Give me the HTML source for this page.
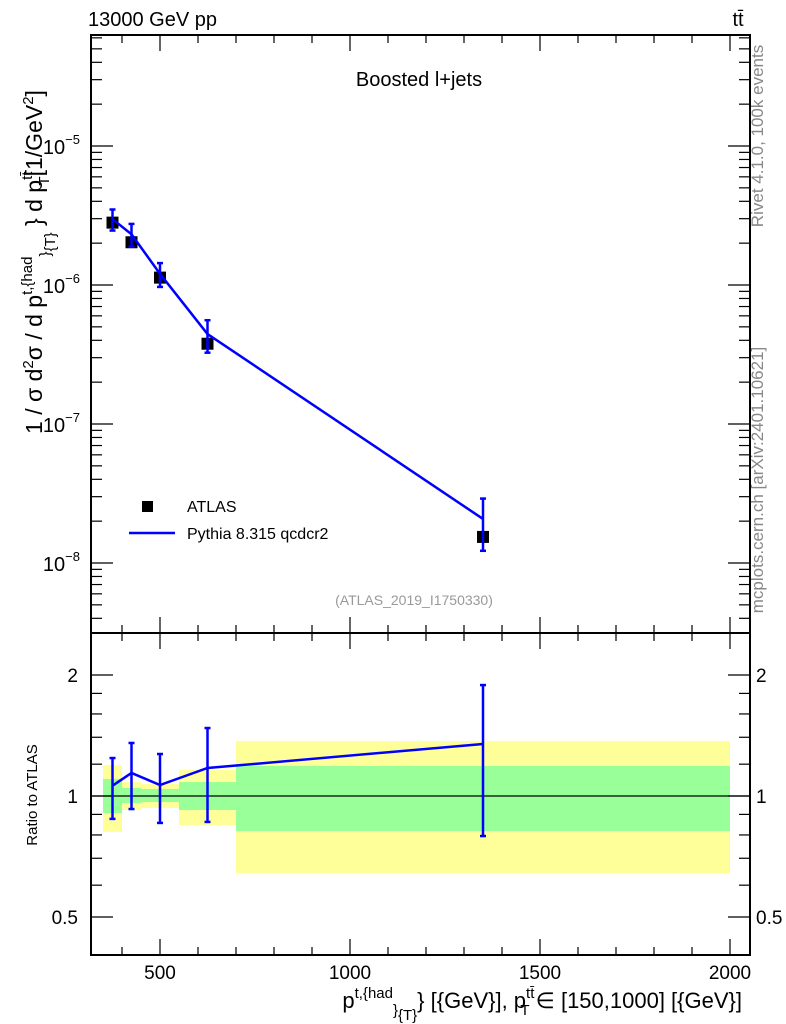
<!DOCTYPE html>
<html><head><meta charset="utf-8"><style>
html,body{margin:0;padding:0;background:#fff}
svg{display:block;font-family:"Liberation Sans",sans-serif}
</style></head><body>
<svg id="c" width="786" height="1024" viewBox="0 0 786 1024">
<text x="88" y="26" font-size="20">13000 GeV pp</text>
<text x="738" y="26" font-size="20" text-anchor="middle">tt̄</text>
<text x="419" y="86" font-size="20" text-anchor="middle">Boosted l+jets</text>
<text x="414" y="605" font-size="14" fill="#999" text-anchor="middle">(ATLAS_2019_I1750330)</text>
<text transform="translate(763,136) rotate(-90)" font-size="17" fill="#888" text-anchor="middle">Rivet 4.1.0,  100k events</text>
<text transform="translate(763,480) rotate(-90)" font-size="17" fill="#888" text-anchor="middle">mcplots.cern.ch [arXiv:2401.10621]</text>
<text transform="translate(42,262) rotate(-90)" font-size="23" text-anchor="middle">1 / σ d<tspan dy="-9" font-size="15">2</tspan><tspan dy="9">σ / d p</tspan><tspan dy="-10" font-size="15">t,{had</tspan><tspan dy="18" font-size="15">}</tspan><tspan dy="5" font-size="15">{T}</tspan><tspan dy="-13"> } d p</tspan><tspan dy="-10" font-size="15">tt̄</tspan><tspan dx="-14" dy="17" font-size="15">T</tspan><tspan dy="-7">[1/GeV</tspan><tspan dy="-9" font-size="15">2</tspan><tspan dy="9">]</tspan></text>
<text transform="translate(37,795) rotate(-90)" font-size="15" text-anchor="middle">Ratio to ATLAS</text>
<text x="742" y="1008" font-size="22" text-anchor="end">p<tspan dy="-10" font-size="15">t,{had</tspan><tspan dy="17" font-size="15">}</tspan><tspan dy="5" font-size="15">{T}</tspan><tspan dy="-12">} [{GeV}], p</tspan><tspan dy="-10" font-size="15">tt̄</tspan><tspan dx="-14" dy="17" font-size="15">T</tspan><tspan dy="-7"> ∈ [150,1000] [{GeV}]</tspan></text>
<g>
<rect x="142" y="501" width="11" height="11" fill="#000"/>
<text x="187" y="512" font-size="16">ATLAS</text>
<line x1="129" y1="533" x2="175" y2="533" stroke="#00f" stroke-width="2.5"/>
<text x="187" y="539" font-size="16">Pythia 8.315 qcdcr2</text>
</g>
</svg>
<script>
const binEdges=[350,400,450,550,700,2000];
const binCenters=[375,425,500,625,1350];
const atlasValues=[2.81e-6,2.03e-6,1.13e-6,3.78e-7,1.54e-8];
const mcRatio=[1.061,1.141,1.065,1.174,1.347];
const mcRatioUp=[1.243,1.355,1.272,1.476,1.888];
const mcRatioDown=[0.877,0.928,0.857,0.862,0.795];
const statUp=[1.102,1.047,1.041,1.083,1.188];
const statDown=[0.907,0.961,0.966,0.923,0.818];
const totUp=[1.194,1.083,1.071,1.161,1.370];
const totDown=[0.814,0.923,0.934,0.847,0.643];
const xTicks=[500,1000,1500,2000];
const yTicks=[-8,-7,-6,-5];
const rTicks=[0.5,1,2];

const NS="http://www.w3.org/2000/svg",svg=document.getElementById('c');
const L=91,R=750,T=35,M=633,B=955;
const X=v=>-30+v*0.38;
const Y=v=>146+(-5-Math.log10(v))*139;
const RY=v=>796-Math.log2(v)*121;
function mk(t,a,p){const e=document.createElementNS(NS,t);for(const k in a)e.setAttribute(k,a[k]);(p||svg).appendChild(e);return e;}
const clipM=mk('clipPath',{id:'cm'});mk('rect',{x:L,y:T,width:R-L,height:M-T},clipM);
const clipR=mk('clipPath',{id:'cr'});mk('rect',{x:L,y:M,width:R-L,height:B-M},clipR);

const gb=mk('g',{'clip-path':'url(#cr)'});


for(let i=0;i<binCenters.length;i++){
  const x0=X(binEdges[i]),x1=X(binEdges[i+1]);
  const y=mk('rect',{x:x0,y:RY(totUp[i]),width:x1-x0,height:RY(totDown[i])-RY(totUp[i]),fill:'#ffff99'},gb);
  
  
  const g=mk('rect',{x:x0,y:RY(statUp[i]),width:x1-x0,height:RY(statDown[i])-RY(statUp[i]),fill:'#99ff99'},gb);
  
  
}
const one=mk('line',{x1:L,x2:R,y1:RY(1),y2:RY(1),stroke:'#000','stroke-width':1.3});



function frame(y0,y1,name){const r=mk('rect',{x:L,y:y0,width:R-L,height:y1-y0,fill:'none',stroke:'#000','stroke-width':2});
}
frame(T,M,'main-frame');frame(M,B,'ratio-frame');
function tk(x1,y1,x2,y2){mk('line',{x1,y1,x2,y2,stroke:'#000','stroke-width':1.2});}
for(let v=400;v<=2000;v+=100){const x=X(v),big=v%500===0,l=big?16:8;
  [[M,-1],[B,-1],[T,1],[M,1]].forEach(([y,d])=>tk(x,y,x,y+d*l));}
xTicks.forEach(v=>{const t=mk('text',{x:X(v),y:979,'font-size':19,'text-anchor':'middle'});t.textContent=v;
  });
for(let d=-9;d<=-5;d++)for(let m=1;m<10;m++){const v=m*Math.pow(10,d),y=Y(v);if(y<T||y>M)continue;const l=m===1?22:11;
  tk(L,y,L+l,y);tk(R,y,R-l,y);}
yTicks.forEach(d=>{const t=mk('text',{x:80,y:Y(Math.pow(10,d))+8,'font-size':20,'text-anchor':'end'});
  t.innerHTML='10<tspan dy="-10" font-size="13">−'+(-d)+'</tspan>';
  });
[0.5,0.6,0.7,0.8,0.9,1,1.2,1.4,1.6,1.8,2].forEach(v=>{const y=RY(v),l=(v===0.5||v===1||v===2)?22:11;tk(L,y,L+l,y);tk(R,y,R-l,y);});
rTicks.forEach(v=>{[[78,'end'],[756,'start']].forEach(([x,a])=>{const t=mk('text',{x,y:RY(v)+7,'font-size':19,'text-anchor':a});t.textContent=v;
  });});

const gm=mk('g',{'clip-path':'url(#cm)'});
atlasValues.forEach((v,i)=>{const s=mk('rect',{x:X(binCenters[i])-6,y:Y(v)-6,width:12,height:12,fill:'#000'},gm);
  });
const mcVals=atlasValues.map((v,i)=>v*mcRatio[i]);
const pl=mk('polyline',{points:mcVals.map((v,i)=>X(binCenters[i])+','+Y(v)).join(' '),fill:'none',stroke:'#00f','stroke-width':2.5},gm);

function eb(p,x,y1,y2,name){const g=mk('g',{stroke:'#00f','stroke-width':2.5},p);
  
  mk('line',{x1:x,x2:x,y1,y2},g);mk('line',{x1:x-3,x2:x+3,y1,y2:y1},g);mk('line',{x1:x-3,x2:x+3,y1:y2,y2},g);}
atlasValues.forEach((v,i)=>eb(gm,X(binCenters[i]),Y(v*mcRatioUp[i]),Y(v*mcRatioDown[i]),'pythia-error-bar'));
const gr=mk('g',{'clip-path':'url(#cr)'});
const rl=mk('polyline',{points:mcRatio.map((v,i)=>X(binCenters[i])+','+RY(v)).join(' '),fill:'none',stroke:'#00f','stroke-width':2.5},gr);

mcRatio.forEach((v,i)=>eb(gr,X(binCenters[i]),RY(mcRatioUp[i]),RY(mcRatioDown[i]),'ratio-error-bar'));
</script>
</body></html>
